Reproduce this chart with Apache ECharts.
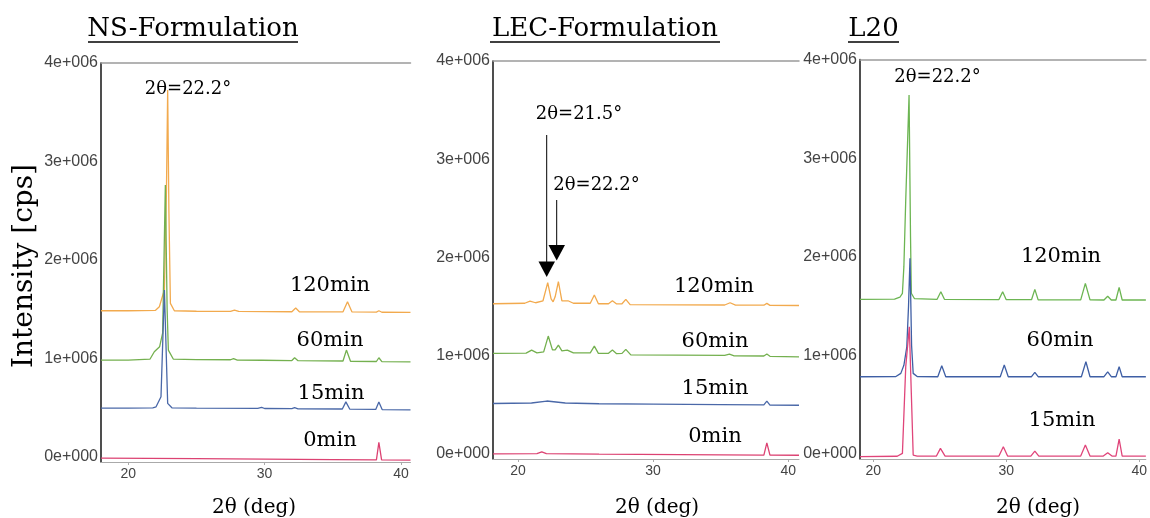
<!DOCTYPE html>
<html><head><meta charset="utf-8">
<script src="https://cdn.jsdelivr.net/npm/echarts@6/dist/echarts.min.js"></script>
<style>html,body{margin:0;padding:0;background:#fff}#c{width:1150px;height:518px}</style>
</head><body><div id="c"></div>
<script>
// ---------- data ----------
const panelTitles = ['NS-Formulation', 'LEC-Formulation', 'L20'];
const xTickValues = [20, 30, 40];
const yTickValues = [0, 1000000, 2000000, 3000000, 4000000];
const yTickLabels = ['0e+000', '1e+006', '2e+006', '3e+006', '4e+006'];
const xRanges = [[18.0, 40.7], [18.15, 40.8], [19.0, 40.5]];
const yRange = [-50000, 4000000];

// NS-Formulation  [2θ, intensity]
const ns120 = [[18,1485000],[20,1485000],[22.0,1490000],[22.28,1526000],[22.65,1700000],[22.8,2700000],[22.89,3726000],[22.98,2500000],[23.09,1560000],[23.38,1485000],[25,1480000],[27.5,1478000],[27.79,1492000],[28.1,1478000],[32.0,1475000],[32.28,1513000],[32.55,1475000],[35.75,1474000],[36.08,1577000],[36.4,1474000],[38.2,1472000],[38.38,1485000],[38.6,1470000],[40.7,1468000]];
const ns60 = [[18,985000],[20,985000],[21.6,995000],[21.91,1069000],[22.3,1120000],[22.52,1259000],[22.72,2761000],[22.85,1500000],[22.94,1086000],[23.3,995000],[25,990000],[27.5,988000],[27.72,1000000],[28,985000],[29.8,983000],[32.0,980000],[32.2,1008000],[32.45,978000],[35.75,975000],[36.0,1086000],[36.3,972000],[38.2,970000],[38.38,1008000],[38.6,968000],[40.7,967000]];
const ns15 = [[18,497000],[20,497000],[21.8,500000],[22.04,510000],[22.4,612000],[22.65,1695000],[22.89,545000],[23.2,500000],[25,497000],[29.5,495000],[29.78,505000],[30.0,493000],[32.0,492000],[32.2,502000],[32.45,490000],[35.7,488000],[35.96,560000],[36.25,486000],[38.15,484000],[38.38,560000],[38.62,482000],[40.7,480000]];
const ns0 = [[18,-10000],[25,-15000],[30,-20000],[35,-25000],[38.2,-28000],[38.38,150000],[38.58,-28000],[40.7,-30000]];

// LEC-Formulation
const lec120 = [[18.15,1530000],[20.5,1535000],[20.89,1557000],[21.3,1540000],[21.85,1560000],[22.2,1744000],[22.45,1580000],[22.6,1550000],[22.75,1600000],[22.99,1754000],[23.25,1560000],[23.7,1560000],[24.1,1535000],[25.35,1535000],[25.65,1618000],[25.95,1530000],[26.7,1530000],[26.99,1560000],[27.3,1528000],[27.7,1530000],[27.98,1575000],[28.3,1520000],[35.3,1517000],[35.7,1540000],[36.1,1515000],[38.2,1515000],[38.42,1534000],[38.65,1513000],[40.8,1512000]];
const lec60 = [[18.15,1025000],[20.6,1027000],[21.01,1058000],[21.4,1030000],[21.9,1040000],[22.24,1201000],[22.55,1060000],[22.75,1060000],[22.99,1109000],[23.25,1050000],[23.65,1058000],[24.1,1030000],[25.35,1030000],[25.65,1099000],[25.95,1025000],[26.7,1025000],[26.99,1058000],[27.3,1022000],[27.7,1025000],[27.98,1066000],[28.35,1010000],[35.3,1005000],[35.65,1018000],[36.0,1000000],[38.2,998000],[38.42,1018000],[38.65,995000],[40.8,990000]];
const lec15 = [[18.15,515000],[21.0,520000],[22.13,540000],[23.5,520000],[26,512000],[30,508000],[35,503000],[38.2,500000],[38.42,539000],[38.65,499000],[40.8,497000]];
const lec0 = [[18.15,2000],[21.4,5000],[21.76,23000],[22.1,5000],[26,0],[32,-5000],[38.2,-10000],[38.42,115000],[38.65,-10000],[40.8,-12000]];

// L20
const l20_120 = [[19.0,1569000],[21.6,1570000],[22.0,1590000],[22.19,1630000],[22.3,1900000],[22.44,2576000],[22.69,3641000],[22.8,2200000],[22.86,1630000],[23.1,1575000],[24.8,1569000],[25.08,1646000],[25.35,1569000],[29.45,1566000],[29.73,1646000],[30.0,1565000],[31.9,1565000],[32.15,1670000],[32.4,1563000],[35.6,1563000],[35.95,1730000],[36.3,1563000],[37.35,1562000],[37.63,1600000],[37.9,1562000],[38.25,1562000],[38.49,1690000],[38.72,1562000],[40.5,1562000]];
const l20_60 = [[19.0,784000],[21.7,786000],[22.07,818000],[22.3,900000],[22.52,1088000],[22.65,1500000],[22.76,1985000],[22.88,1100000],[23.0,818000],[23.3,786000],[24.85,784000],[25.15,896000],[25.45,784000],[29.55,784000],[29.85,903000],[30.15,784000],[31.9,784000],[32.15,829000],[32.4,784000],[35.65,784000],[35.99,936000],[36.3,784000],[37.35,784000],[37.63,834000],[37.9,784000],[38.25,784000],[38.49,885000],[38.72,784000],[40.5,784000]];
const l20_15 = [[19.0,-25000],[21.8,-22000],[22.19,7000],[22.44,885000],[22.71,1290000],[22.86,616000],[23.0,-10000],[23.3,-20000],[24.75,-20000],[25.05,58000],[25.4,-20000],[29.45,-20000],[29.78,74000],[30.1,-20000],[31.85,-20000],[32.15,30000],[32.45,-20000],[35.6,-20000],[35.95,91000],[36.3,-20000],[37.3,-20000],[37.63,13000],[37.95,-20000],[38.25,-20000],[38.49,152000],[38.72,-20000],[40.5,-20000]];

const timeLabels = ['120min', '60min', '15min', '0min'];

// ---------- chart ----------
const C_OR = '#f2aa4e', C_GR = '#74b04f', C_BL = '#4a68a8', C_RD = '#dc4272';
const panels = [
  { grid: {left: 101, top: 63, width: 309.5, height: 399}, series: [[ns120, C_OR], [ns60, C_GR], [ns15, C_BL], [ns0, C_RD]] },
  { grid: {left: 493, top: 61, width: 306, height: 398}, series: [[lec120, C_OR], [lec60, C_GR], [lec15, C_BL], [lec0, C_RD]] },
  { grid: {left: 860, top: 59.5, width: 290, height: 399.5}, series: [[l20_120, '#6cb552'], [l20_60, '#3f5fa5'], [l20_15, '#e0457a']] }
];

const grid = [], xAxis = [], yAxis = [], series = [];
panels.forEach((p, i) => {
  grid.push(p.grid);
  xAxis.push({
    type: 'value', gridIndex: i, min: xRanges[i][0], max: xRanges[i][1],
    axisLine: {show: true, onZero: false, lineStyle: {color: '#aaa', width: 1}},
    axisTick: {show: true, customValues: xTickValues, length: 3, lineStyle: {color: '#aaa'}},
    axisLabel: {customValues: xTickValues, color: '#444', fontSize: 14, fontFamily: 'Liberation Sans', margin: 5},
    splitLine: {show: false}
  });
  xAxis.push({
    type: 'value', gridIndex: i, position: 'top', min: xRanges[i][0], max: xRanges[i][1],
    axisLine: {show: true, onZero: false, lineStyle: {color: '#9a9a9a', width: 1.5}},
    axisTick: {show: false}, axisLabel: {show: false}, splitLine: {show: false}
  });
  yAxis.push({
    type: 'value', gridIndex: i, min: yRange[0], max: yRange[1],
    axisLine: {show: true, onZero: false, lineStyle: {color: '#222', width: 1.6}},
    axisTick: {show: false},
    axisLabel: {customValues: yTickValues, color: '#444', fontSize: 16, fontFamily: 'Liberation Sans', margin: 3,
      formatter: v => yTickLabels[yTickValues.indexOf(v)]},
    splitLine: {show: false}
  });
  p.series.forEach(([d, c]) => {
    series.push({
      type: 'line', xAxisIndex: i * 2, yAxisIndex: i, data: d, symbol: 'none', showSymbol: false,
      lineStyle: {color: c, width: 1.3}, animation: false, silent: true
    });
  });
});

const SERIF = 'DejaVu Serif';
function txt(t, x, y, size, extra) {
  return Object.assign({type: 'text', x: x, y: y, silent: true,
    style: {text: t, font: size + 'px "' + SERIF + '"', fill: '#000', align: 'center', verticalAlign: 'middle'}}, extra || {});
}
function ln(x1, y1, x2, y2, w) {
  return {type: 'line', silent: true, shape: {x1, y1, x2, y2}, style: {stroke: '#000', lineWidth: w}};
}
const graphic = [
  txt(panelTitles[0], 193, 29.5, 26), ln(88, 42, 298, 42, 1.6),
  txt(panelTitles[1], 605, 29.5, 26), ln(490, 42, 720, 42, 1.6),
  txt(panelTitles[2], 873.5, 29.5, 26), ln(848, 42, 899, 42, 1.6),
  txt('2θ=22.2°', 188, 89.6, 18),
  txt('2θ=22.2°', 937.5, 77.6, 18),
  txt('2θ=21.5°', 579, 114.6, 18),
  txt('2θ=22.2°', 596.5, 185.3, 18),
  ln(546.7, 135, 546.7, 262, 1),
  {type: 'polygon', silent: true, shape: {points: [[538.5, 261.5], [555, 261.5], [546.7, 277]]}, style: {fill: '#000'}},
  ln(556.7, 200, 556.7, 246, 1),
  {type: 'polygon', silent: true, shape: {points: [[548.5, 245], [565, 245], [556.7, 260.5]]}, style: {fill: '#000'}},
  txt(timeLabels[0], 330, 285.7, 21), txt(timeLabels[1], 330, 340.7, 21), txt(timeLabels[2], 331, 393.7, 21), txt(timeLabels[3], 330, 440.7, 21),
  txt(timeLabels[0], 714, 286.7, 21), txt(timeLabels[1], 715, 341.7, 21), txt(timeLabels[2], 715, 388.7, 21), txt(timeLabels[3], 715, 436.7, 21),
  txt(timeLabels[0], 1061, 256.7, 21), txt(timeLabels[1], 1060, 340.7, 21), txt(timeLabels[2], 1062, 420.7, 21),
  txt('2θ (deg)', 254, 508, 20), txt('2θ (deg)', 657, 508, 20), txt('2θ (deg)', 1038, 508, 20),
  txt('Intensity [cps]', 25, 266, 28, {rotation: Math.PI / 2})
];

const chart = echarts.init(document.getElementById('c'), null, {renderer: 'canvas'});
chart.setOption({animation: false, backgroundColor: '#fff', grid, xAxis, yAxis, series, graphic});
</script>
</body></html>
